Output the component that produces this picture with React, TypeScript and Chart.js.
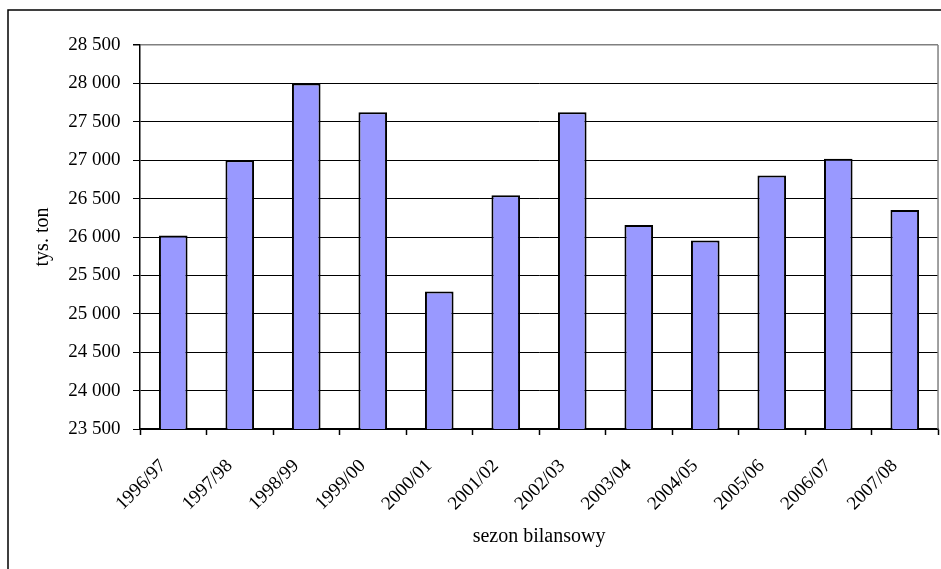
import React, { useEffect, useRef } from "react";
import { Chart, registerables } from "chart.js";

Chart.register(...registerables);

// Seasons (sezon bilansowy) and balance values in thousand tonnes
const seasons = [
  "1996/97", "1997/98", "1998/99", "1999/00", "2000/01", "2001/02",
  "2002/03", "2003/04", "2004/05", "2005/06", "2006/07", "2007/08",
];
const values = [26020, 27000, 28000, 27625, 25290, 26545, 27625, 26155, 25955, 26800, 27020, 26350];

const yMin = 23500;
const yMax = 28500;
const yStep = 500;

const FONT = '"Liberation Serif", "Times New Roman", Times, serif';

const formatThousands = (v: number) =>
  String(v).replace(/\B(?=(\d{3})+(?!\d))/g, " ");

// Outer frame plus the grey right edge of the plot area
const framePlugin = {
  id: "frame",
  beforeDraw(chart: any) {
    const { ctx, width, height } = chart;
    ctx.save();
    ctx.fillStyle = "#ffffff";
    ctx.fillRect(0, 0, width, height);
    ctx.restore();
  },
  afterDraw(chart: any) {
    const { ctx, chartArea, width, height } = chart;
    ctx.save();
    ctx.strokeStyle = "#000000";
    ctx.lineWidth = 1.5;
    ctx.beginPath();
    ctx.moveTo(8, height);
    ctx.lineTo(8, 10);
    ctx.lineTo(width, 10);
    ctx.stroke();

    ctx.strokeStyle = "#808080";
    ctx.lineWidth = 1.5;
    ctx.beginPath();
    ctx.moveTo(chartArea.right, chartArea.top);
    ctx.lineTo(chartArea.right, chartArea.bottom);
    ctx.stroke();
    ctx.restore();
  },
};

export default function App() {
  const canvasRef = useRef<HTMLCanvasElement | null>(null);

  useEffect(() => {
    const canvas = canvasRef.current;
    if (!canvas) return;
    const chart = new Chart(canvas, {
      type: "bar",
      data: {
        labels: seasons,
        datasets: [
          {
            data: values,
            backgroundColor: "#9999FF",
            borderColor: "#000000",
            borderWidth: 2,
            borderSkipped: "start",
            barPercentage: 0.43,
            categoryPercentage: 1,
          },
        ],
      },
      options: {
        animation: false,
        responsive: false,
        maintainAspectRatio: false,
        devicePixelRatio: 1,
        layout: { padding: { top: 45, right: 2.5, left: 0, bottom: 0 } },
        plugins: {
          legend: { display: false },
          tooltip: { enabled: false },
        },
        scales: {
          x: {
            afterFit: (scale: any) => {
              scale.height = 140;
            },
            grid: {
              offset: true,
              drawOnChartArea: false,
              drawTicks: true,
              tickLength: 6,
              tickColor: "#000000",
              tickWidth: 1.5,
            },
            border: { color: "#000000", width: 1.5 },
            ticks: {
              autoSkip: false,
              maxRotation: 45,
              minRotation: 45,
              labelOffset: -10,
              padding: 20,
              color: "#000000",
              font: { family: FONT, size: 19 },
            },
            title: {
              display: true,
              text: "sezon bilansowy",
              color: "#000000",
              font: { family: FONT, size: 20 },
              padding: { top: 0, bottom: 20 },
            },
          },
          y: {
            min: yMin,
            max: yMax,
            afterFit: (scale: any) => {
              scale.width = 140;
            },
            grid: {
              color: (ctx: any) =>
                ctx.tick && ctx.tick.value === yMax ? "#808080" : "#000000",
              lineWidth: (ctx: any) => (ctx.tick && ctx.tick.value === yMax ? 1.5 : 1),
              tickLength: 7,
              tickColor: "#000000",
            },
            border: { color: "#000000", width: 1.5 },
            ticks: {
              stepSize: yStep,
              padding: 12.5,
              color: "#000000",
              font: { family: FONT, size: 19 },
              callback: (v: any) => formatThousands(Number(v)),
            },
            title: {
              display: true,
              text: "tys. ton",
              color: "#000000",
              font: { family: FONT, size: 20 },
              padding: { top: 31, bottom: 0 },
            },
          },
        },
      },
      plugins: [framePlugin],
    });
    return () => chart.destroy();
  }, []);

  return (
    <div style={{ position: "fixed", left: 0, top: 0, width: 941, height: 569, background: "#fff" }}>
      <canvas ref={canvasRef} width={941} height={569} style={{ display: "block" }} />
    </div>
  );
}
